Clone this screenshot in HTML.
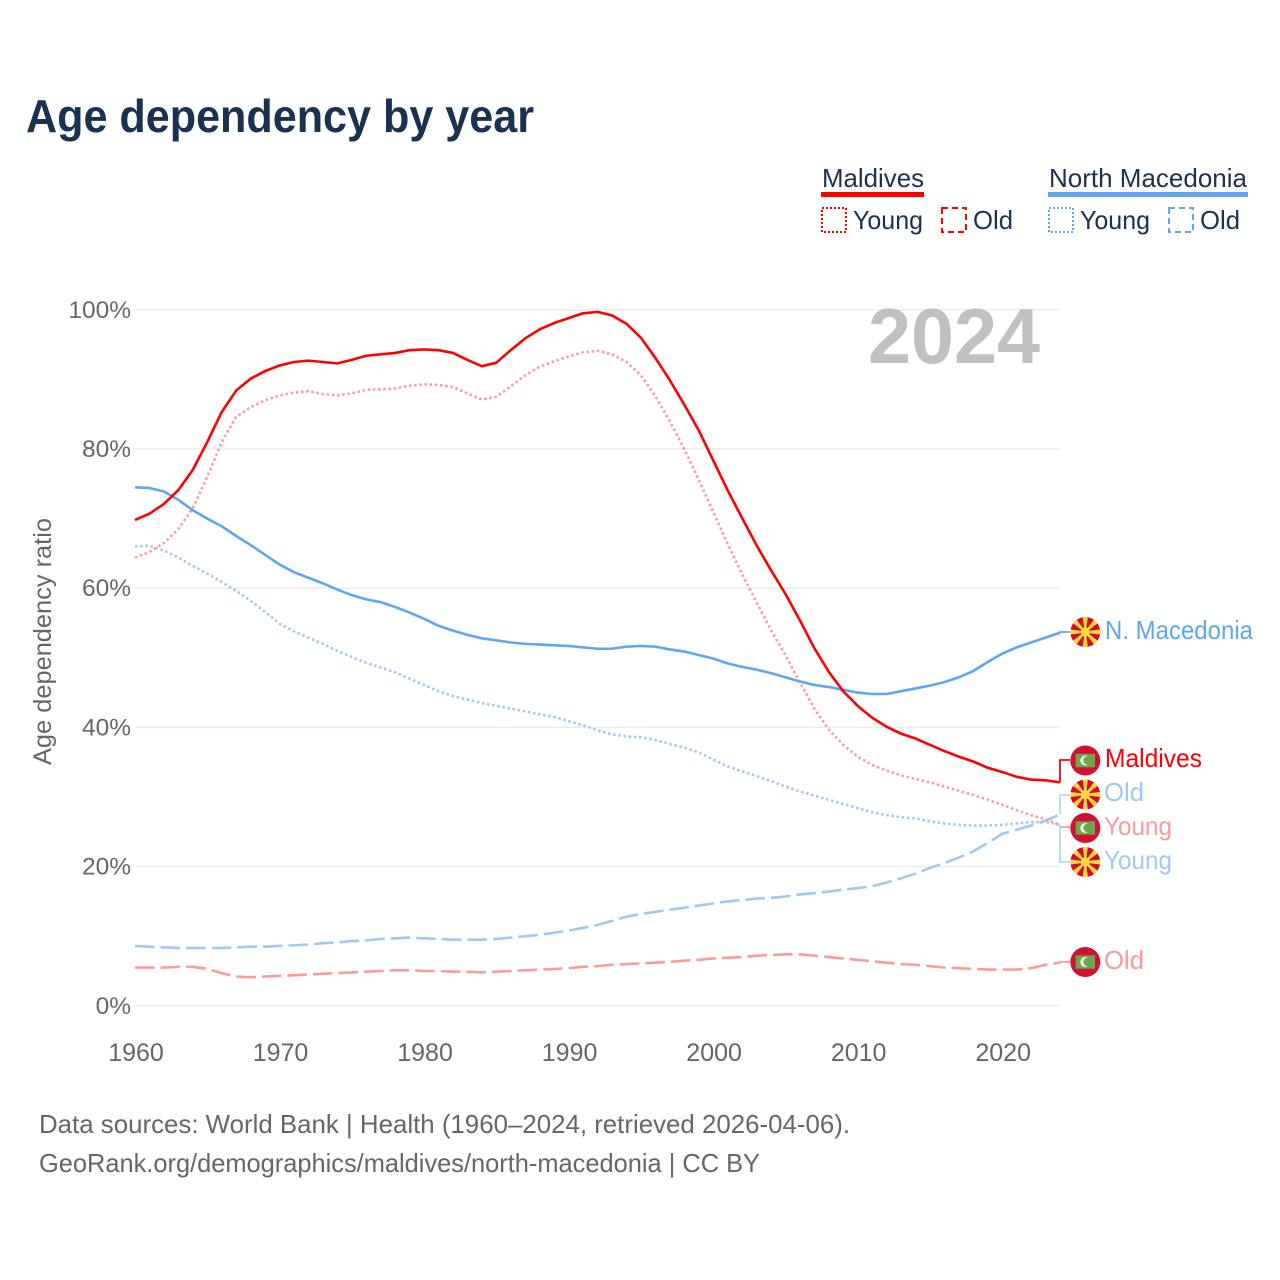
<!DOCTYPE html>
<html lang="en">
<head>
<meta charset="utf-8">
<title>Age dependency by year</title>
<style>
html,body{margin:0;padding:0;background:#fff;}
svg{display:block;font-family:"Liberation Sans",sans-serif;}
</style>
</head>
<body>
<svg id="chart" xmlns="http://www.w3.org/2000/svg" width="1280" height="1280" viewBox="0 0 1280 1280">
  <defs>
    <clipPath id="flag-clip"><circle cx="0" cy="0" r="15"/></clipPath>
  </defs>
  <rect width="1280" height="1280" fill="#fff"/>
  <text x="26" y="132" font-size="46" font-weight="700" fill="#1a3150" textLength="508" lengthAdjust="spacingAndGlyphs">Age dependency by year</text>

  <g font-size="26" fill="#1a3150">
    <text x="822" y="187" textLength="102" lengthAdjust="spacingAndGlyphs">Maldives</text>
    <rect x="821" y="192" width="103" height="5" fill="#ff0000"/>
    <rect x="822" y="208" width="24" height="24" fill="none" stroke="#ff0000" stroke-width="2" stroke-dasharray="2 2"/>
    <text x="853" y="229" textLength="70" lengthAdjust="spacingAndGlyphs">Young</text>
    <rect x="942" y="208" width="24" height="24" fill="none" stroke="#ff0000" stroke-width="2" stroke-dasharray="6 4"/>
    <text x="973" y="229" textLength="40" lengthAdjust="spacingAndGlyphs">Old</text>
    <text x="1049" y="187" textLength="198" lengthAdjust="spacingAndGlyphs">North Macedonia</text>
    <rect x="1048" y="192" width="200" height="5" fill="#5ea6ef"/>
    <rect x="1049" y="208" width="24" height="24" fill="none" stroke="#5ea6ef" stroke-width="2" stroke-dasharray="2 2"/>
    <text x="1080" y="229" textLength="70" lengthAdjust="spacingAndGlyphs">Young</text>
    <rect x="1169" y="208" width="24" height="24" fill="none" stroke="#5ea6ef" stroke-width="2" stroke-dasharray="6 4"/>
    <text x="1200" y="229" textLength="40" lengthAdjust="spacingAndGlyphs">Old</text>
  </g>

  <g id="grid"></g>
  <g id="yticks" font-size="24.5" fill="#666" text-anchor="end"></g>
  <g id="xticks" font-size="25" fill="#666" text-anchor="middle"></g>
  <text transform="translate(51,765) rotate(-90)" font-size="25" fill="#666" textLength="247" lengthAdjust="spacingAndGlyphs">Age dependency ratio</text>
  <text x="1040" y="363" font-size="78" font-weight="700" fill="#c0c0c0" text-anchor="end" textLength="172" lengthAdjust="spacingAndGlyphs">2024</text>

  <g id="leaders" fill="none" stroke-width="1.8"></g>
  <g id="series" fill="none" stroke-linejoin="round"></g>
  <g id="flags"></g>

  <g font-size="26">
    <text x="1105" y="639" fill="#5ea6ef" textLength="148" lengthAdjust="spacingAndGlyphs">N. Macedonia</text>
    <text x="1105" y="767" fill="#ff0000" textLength="97" lengthAdjust="spacingAndGlyphs">Maldives</text>
    <text x="1104" y="801" fill="#9fc8f3" textLength="40" lengthAdjust="spacingAndGlyphs">Old</text>
    <text x="1104" y="835" fill="#ff9a9a" textLength="68" lengthAdjust="spacingAndGlyphs">Young</text>
    <text x="1104" y="869" fill="#9fc8f3" textLength="68" lengthAdjust="spacingAndGlyphs">Young</text>
    <text x="1104" y="969" fill="#ff9a9a" textLength="40" lengthAdjust="spacingAndGlyphs">Old</text>
  </g>

  <g font-size="26" fill="#666">
    <text x="39" y="1133" textLength="811" lengthAdjust="spacingAndGlyphs">Data sources: World Bank | Health (1960–2024, retrieved 2026-04-06).</text>
    <text x="39" y="1172" textLength="721" lengthAdjust="spacingAndGlyphs">GeoRank.org/demographics/maldives/north-macedonia | CC BY</text>
  </g>
</svg>
<script>
const startYear = 1960;
const yTickValues = [0, 20, 40, 60, 80, 100];
const xTickValues = [1960, 1970, 1980, 1990, 2000, 2010, 2020];

const maldivesTotal = [69.8,70.7,72.1,74.1,77.0,81.0,85.3,88.4,90.1,91.2,92.0,92.5,92.7,92.5,92.3,92.8,93.4,93.6,93.8,94.2,94.3,94.2,93.8,92.8,91.9,92.4,94.2,95.9,97.2,98.1,98.8,99.5,99.7,99.2,98.0,96.0,93.1,89.9,86.4,82.7,78.4,74.1,70.1,66.2,62.6,59.2,55.4,51.4,48.0,45.2,43.1,41.4,40.1,39.1,38.4,37.5,36.6,35.8,35.1,34.2,33.6,32.9,32.5,32.4,32.1];
const maldivesYoung = [64.4,65.2,66.5,68.5,71.5,76.0,81.0,84.6,86.0,87.0,87.7,88.1,88.3,87.9,87.7,88.0,88.5,88.6,88.7,89.1,89.3,89.2,88.9,88.0,87.1,87.5,89.0,90.6,91.8,92.6,93.3,93.9,94.1,93.6,92.5,90.6,87.6,84.0,80.0,75.6,71.0,66.4,62.0,58.0,54.0,50.4,46.5,42.7,39.7,37.5,35.8,34.6,33.8,33.1,32.6,32.1,31.5,30.9,30.3,29.6,28.9,28.1,27.4,26.8,26.0];
const maldivesOld = [5.5,5.5,5.5,5.6,5.6,5.3,4.7,4.2,4.1,4.2,4.3,4.4,4.5,4.6,4.7,4.8,4.9,5.0,5.1,5.1,5.0,5.0,4.9,4.9,4.8,4.9,5.0,5.1,5.2,5.3,5.4,5.6,5.7,5.9,6.0,6.1,6.2,6.3,6.5,6.6,6.8,6.9,7.0,7.2,7.3,7.4,7.4,7.2,7.0,6.8,6.6,6.4,6.2,6.0,5.9,5.7,5.5,5.4,5.3,5.2,5.2,5.2,5.4,5.9,6.2];
const macedoniaTotal = [74.5,74.4,73.9,72.7,71.2,70.0,68.9,67.5,66.2,64.8,63.4,62.3,61.5,60.7,59.8,59.0,58.4,58.0,57.3,56.5,55.6,54.6,53.9,53.3,52.8,52.5,52.2,52.0,51.9,51.8,51.7,51.5,51.3,51.3,51.6,51.7,51.6,51.2,50.9,50.4,49.9,49.2,48.7,48.3,47.8,47.2,46.6,46.1,45.8,45.4,45.0,44.8,44.8,45.2,45.6,46.0,46.5,47.2,48.1,49.4,50.6,51.5,52.2,52.9,53.6];
const macedoniaYoung = [66.0,66.1,65.4,64.4,63.2,62.1,60.9,59.6,58.2,56.6,54.9,53.8,52.9,52.0,51.0,50.1,49.3,48.6,47.9,47.0,46.1,45.2,44.5,44.0,43.5,43.1,42.7,42.3,41.9,41.5,40.9,40.3,39.6,39.0,38.7,38.6,38.2,37.6,37.1,36.4,35.4,34.4,33.7,33.0,32.3,31.5,30.8,30.2,29.6,29.0,28.4,27.8,27.4,27.1,26.9,26.5,26.2,26.0,25.9,25.9,26.0,26.2,26.4,26.4,26.0];
const macedoniaOld = [8.6,8.5,8.4,8.3,8.3,8.3,8.3,8.4,8.5,8.5,8.6,8.7,8.8,9.0,9.1,9.3,9.4,9.6,9.7,9.8,9.7,9.6,9.5,9.5,9.5,9.6,9.8,10.0,10.2,10.5,10.8,11.2,11.6,12.2,12.8,13.2,13.5,13.8,14.1,14.4,14.7,15.0,15.2,15.4,15.5,15.7,16.0,16.2,16.4,16.7,16.9,17.2,17.7,18.3,19.0,19.8,20.5,21.3,22.2,23.4,24.7,25.3,25.9,26.6,27.5];

const NS = 'http://www.w3.org/2000/svg';
const xScale = function (year) { return 135 + (year - startYear) * 14.453; };
const yScale = function (v) { return 1005.8 - v * 6.96; };
const make = function (tag, parent) {
  const el = document.createElementNS(NS, tag);
  parent.appendChild(el);
  return el;
};

const gridGroup = document.getElementById('grid');
const yTickGroup = document.getElementById('yticks');
yTickValues.forEach(function (v) {
  const line = make('line', gridGroup);
  
  
  line.setAttribute('x1', xScale(startYear));
  line.setAttribute('x2', xScale(2024));
  line.setAttribute('y1', yScale(v));
  line.setAttribute('y2', yScale(v));
  line.setAttribute('stroke', '#ececec');
  line.setAttribute('stroke-width', '1.5');
  const label = make('text', yTickGroup);
  
  
  label.setAttribute('x', 131);
  label.setAttribute('y', yScale(v) + 8);
  label.textContent = v + '%';
});

const xTickGroup = document.getElementById('xticks');
xTickValues.forEach(function (year) {
  const label = make('text', xTickGroup);
  
  
  label.setAttribute('x', xScale(year) + 1);
  label.setAttribute('y', 1061);
  label.textContent = year;
});

const seriesGroup = document.getElementById('series');
const drawSeries = function (values, name, color, width, dash) {
  const path = make('path', seriesGroup);
  
  
  path.setAttribute('d', values.map(function (v, i) {
    return (i ? 'L' : 'M') + xScale(startYear + i).toFixed(2) + ' ' + yScale(v).toFixed(2);
  }).join(''));
  path.setAttribute('stroke', color);
  path.setAttribute('stroke-width', width);
  if (dash) path.setAttribute('stroke-dasharray', dash);
};
drawSeries(macedoniaOld, 'line-north-macedonia-old', '#9fc8f3', 2.6, '19.6 6');
drawSeries(maldivesOld, 'line-maldives-old', '#ff9a9a', 2.6, '19.6 6');
drawSeries(macedoniaYoung, 'line-north-macedonia-young', '#9fc8f3', 2.6, '2.5 2.7');
drawSeries(maldivesYoung, 'line-maldives-young', '#ff9a9a', 2.6, '2.5 2.7');
drawSeries(macedoniaTotal, 'line-north-macedonia-total', '#5ea6ef', 2.6, '');
drawSeries(maldivesTotal, 'line-maldives-total', '#ff0000', 2.6, '');

const leaderGroup = document.getElementById('leaders');
const drawLeader = function (values, labelY, name, color) {
  const endY = yScale(values[values.length - 1]);
  const endX = xScale(2024);
  const leader = make('path', leaderGroup);
  
  
  leader.setAttribute('d', 'M' + endX + ' ' + endY + 'L' + endX + ' ' + labelY + 'L1070 ' + labelY);
  leader.setAttribute('stroke', color);
};
drawLeader(macedoniaTotal, 632, 'leader-north-macedonia', '#5ea6ef');
drawLeader(maldivesTotal, 760, 'leader-maldives', '#ff0000');
drawLeader(macedoniaOld, 795, 'leader-north-macedonia-old', '#b8d6f6');
drawLeader(maldivesYoung, 827, 'leader-maldives-young', '#ff9a9a');
drawLeader(macedoniaYoung, 862, 'leader-north-macedonia-young', '#b8d6f6');
drawLeader(maldivesOld, 962, 'leader-maldives-old', '#ff9a9a');

const flagGroup = document.getElementById('flags');
const drawMacedoniaFlag = function (cy, name) {
  const flag = make('g', flagGroup);
  
  
  flag.setAttribute('transform', 'translate(1085.3 ' + cy + ')');
  flag.setAttribute('clip-path', 'url(#flag-clip)');
  const base = make('circle', flag);
  base.setAttribute('r', 15);
  base.setAttribute('fill', '#d20a2e');
  for (let k = 0; k < 8; k++) {
    const ray = make('polygon', flag);
    ray.setAttribute('points', '-0.6,0 0.6,0 2.7,-16 -2.7,-16');
    ray.setAttribute('fill', '#ffd83c');
    ray.setAttribute('transform', 'rotate(' + (k * 45) + ')');
  }
  const sun = make('circle', flag);
  sun.setAttribute('r', 4.6);
  sun.setAttribute('fill', '#ffd83c');
};
const drawMaldivesFlag = function (cy, name) {
  const flag = make('g', flagGroup);
  
  
  flag.setAttribute('transform', 'translate(1085.3 ' + cy + ')');
  const base = make('circle', flag);
  base.setAttribute('r', 15);
  base.setAttribute('fill', '#d21034');
  const field = make('rect', flag);
  field.setAttribute('x', -9.7);
  field.setAttribute('y', -6.7);
  field.setAttribute('width', 19.4);
  field.setAttribute('height', 13.4);
  field.setAttribute('fill', '#6aa84f');
  const moon = make('circle', flag);
  moon.setAttribute('cx', 0);
  moon.setAttribute('r', 5);
  moon.setAttribute('fill', '#f2f6ee');
  const cut = make('circle', flag);
  cut.setAttribute('cx', 2.2);
  cut.setAttribute('r', 4.2);
  cut.setAttribute('fill', '#6aa84f');
};
drawMacedoniaFlag(632, 'flag-north-macedonia');
drawMaldivesFlag(760.5, 'flag-maldives');
drawMacedoniaFlag(794.5, 'flag-north-macedonia-old');
drawMaldivesFlag(828, 'flag-maldives-young');
drawMacedoniaFlag(862, 'flag-north-macedonia-young');
drawMaldivesFlag(962, 'flag-maldives-old');
</script>
</body>
</html>
